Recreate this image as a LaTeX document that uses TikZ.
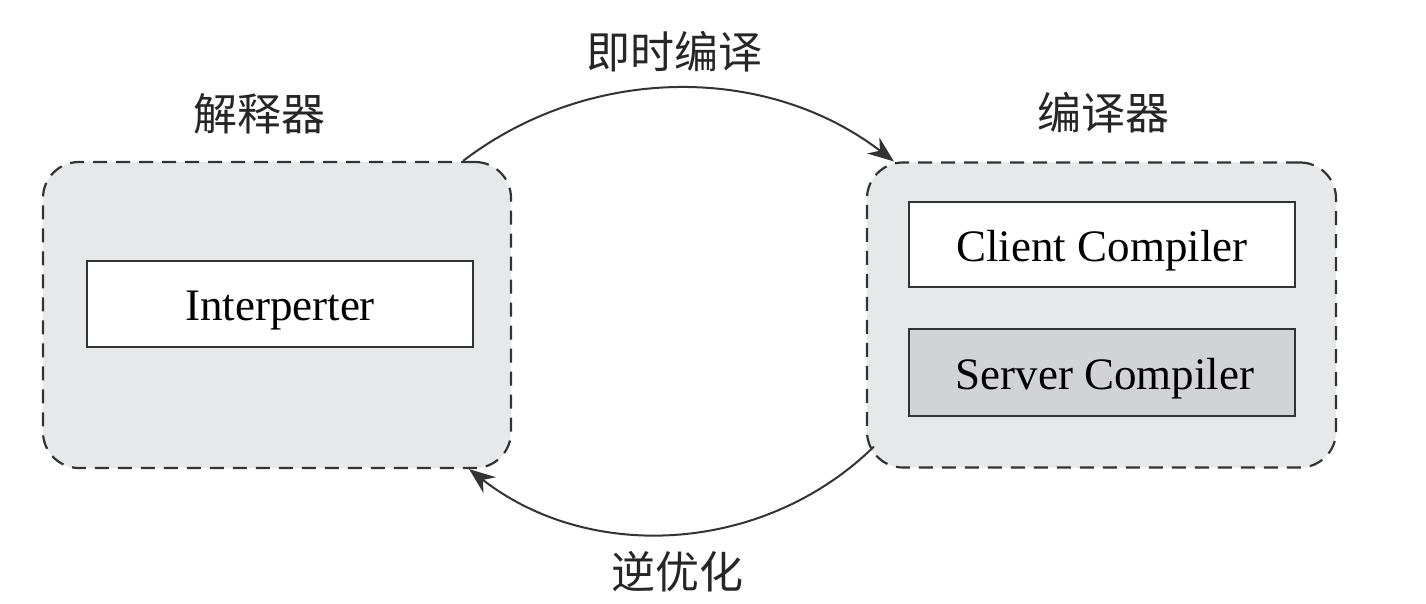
\documentclass[tikz,border=0pt]{standalone}
\usepackage{fontspec}
\setmainfont{Liberation Serif}
\newfontfamily\cjk{Noto Sans CJK SC}
\usetikzlibrary{arrows.meta}
\definecolor{outerfill}{HTML}{E6E8E9}
\definecolor{serverfill}{HTML}{D1D3D4}
\definecolor{linegray}{HTML}{333333}
\tikzset{
  groupbox/.style={draw=linegray, fill=outerfill, line width=2.2pt, dash pattern=on 14pt off 9pt, rounded corners=36pt, inner sep=0pt},
  unitbox/.style={draw=linegray, line width=2pt, inner sep=0pt, text height=40pt, text depth=7pt, font=\fontsize{45}{50}\selectfont},
  cjklabel/.style={inner sep=0pt, font=\cjk\fontsize{44}{48}\selectfont, text=black!85},
  arc/.style={draw=linegray, line width=2pt, -{Stealth[length=26pt,width=20pt]}}
}
\begin{document}
\begin{tikzpicture}[x=1pt,y=-1pt]
\useasboundingbox[fill=white] (0,0) rectangle (1426,604);
% outer groups
\node[groupbox, minimum width=468pt, minimum height=306pt] (L) at (277,315) {};
\node[groupbox, minimum width=469pt, minimum height=305pt] (R) at (1101.5,315) {};
% inner units
\node[unitbox, fill=white, minimum width=386pt, minimum height=86pt] (interp) at (280,304) {Interperter};
\node[unitbox, fill=white, minimum width=386pt, minimum height=85pt] (client) at (1102,244.5) {Client Compiler};
\node[unitbox, fill=serverfill, minimum width=386pt, minimum height=87pt] (server) at (1102,372.5) {\hspace*{6pt}Server Compiler};
% labels
\node[cjklabel] (lblL) at (259,114) {解释器};
\node[cjklabel] (lblR) at (1103,113) {编译器};
\node[cjklabel] (lblJit) at (674,52) {即时编译};
\node[cjklabel] (lblDeopt) at (677,572) {逆优化};
% connectors
\draw[arc] ([xshift=-49pt]L.north east) .. controls (590,64) and (767,64) .. ([xshift=28pt]R.north west);
\draw[arc] ([xshift=8pt,yshift=22pt]R.south west) .. controls (764.5,553.7) and (590,563.6) .. ([xshift=-43pt]L.south east);
\end{tikzpicture}
\end{document}
